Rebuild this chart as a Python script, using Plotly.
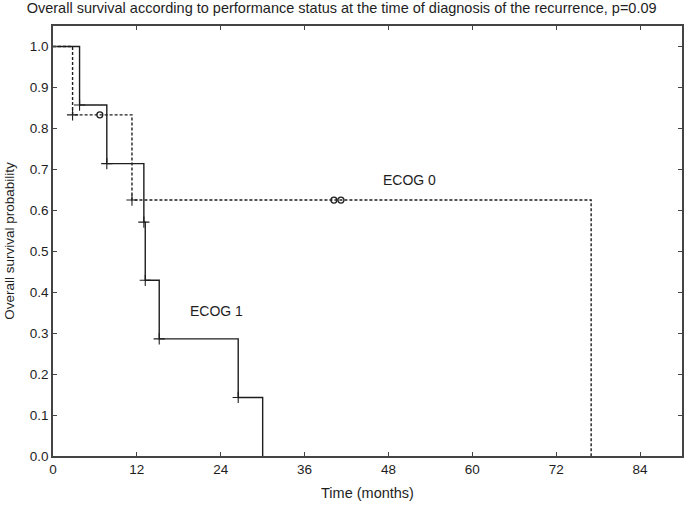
import plotly.graph_objects as go

# ECOG 1 (solid): step times (months) and survival after each step
ecog1_t = [0, 3.8, 7.7, 13.0, 13.2, 15.2, 26.5, 30.0]
ecog1_s = [1.0, 0.857, 0.714, 0.571, 0.429, 0.286, 0.143, 0.0]

# ECOG 0 (dashed)
ecog0_t = [0, 2.8, 11.3, 77.0]
ecog0_s = [1.0, 0.833, 0.625, 0.0]
# censored observations for ECOG 0
cens0_t = [6.7, 40.2, 41.2]
cens0_s = [0.833, 0.625, 0.625]

x_ticks = [0, 12, 24, 36, 48, 60, 72, 84]
y_ticks = [0.0, 0.1, 0.2, 0.3, 0.4, 0.5, 0.6, 0.7, 0.8, 0.9, 1.0]

FONT = "Liberation Sans, Arial, sans-serif"
INK = "#1e1e1e"

fig = go.Figure()

fig.add_trace(go.Scatter(
    x=ecog1_t, y=ecog1_s, mode="lines", line_shape="hv",
    line=dict(color=INK, width=1.4), showlegend=False,
))
fig.add_trace(go.Scatter(
    x=ecog1_t[1:-1], y=ecog1_s[1:-1], mode="markers",
    marker=dict(symbol="cross-thin", size=8, line=dict(color=INK, width=1.1)),
    showlegend=False,
))

fig.add_trace(go.Scatter(
    x=ecog0_t, y=ecog0_s, mode="lines", line_shape="hv",
    line=dict(color=INK, width=1.4, dash="3px,2px"), showlegend=False,
))
fig.add_trace(go.Scatter(
    x=ecog0_t[1:-1], y=ecog0_s[1:-1], mode="markers",
    marker=dict(symbol="cross-thin", size=8, line=dict(color=INK, width=1.1)),
    showlegend=False,
))
fig.add_trace(go.Scatter(
    x=cens0_t, y=cens0_s, mode="markers",
    marker=dict(symbol="circle-open", size=6, color=INK, line=dict(width=1.3)),
    showlegend=False,
))

fig.add_annotation(x=51, y=0.675, text="ECOG 0", showarrow=False,
                   font=dict(size=14, color=INK, family=FONT))
fig.add_annotation(x=23.4, y=0.355, text="ECOG 1", showarrow=False,
                   font=dict(size=14, color=INK, family=FONT))

axis_style = dict(
    showgrid=False, zeroline=False, showline=True, linecolor="#444444",
    linewidth=1.5, mirror="ticks", ticks="inside", ticklen=4,
    tickcolor="#444444", tickwidth=1, automargin=False,
    tickfont=dict(size=13.5, color=INK, family=FONT),
)

fig.update_xaxes(range=[0, 90], tickvals=x_ticks,
                 title=dict(text="Time (months)", font=dict(size=14.5, color=INK, family=FONT), standoff=12),
                 **axis_style)
fig.update_yaxes(range=[0, 1.05], tickvals=y_ticks, tickformat=".1f",
                 title=dict(text="Overall survival probability", font=dict(size=13.5, color=INK, family=FONT), standoff=12),
                 **axis_style)

fig.update_layout(
    width=685, height=507,
    margin=dict(l=53, r=3, t=26, b=51),
    paper_bgcolor="white", plot_bgcolor="white",
    font=dict(family=FONT, color=INK),
    title=dict(
        text="Overall survival according to performance status at the time of diagnosis of the recurrence, p=0.09",
        x=0.039, xanchor="left", y=1 - 8 / 507, yanchor="middle",
        font=dict(size=14.5, color=INK, family=FONT),
    ),
)

fig.write_html("out.html", config={"displayModeBar": False},
               post_script="document.body.style.margin='0';")
